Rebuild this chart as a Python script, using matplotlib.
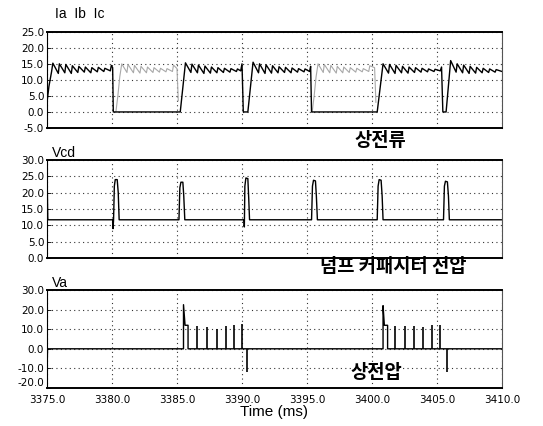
import matplotlib.pyplot as plt

# --- data ---
x_ticks = [3375.0, 3380.0, 3385.0, 3390.0, 3395.0, 3400.0, 3405.0, 3410.0]
i_ticks = [-5.0, 0.0, 5.0, 10.0, 15.0, 20.0, 25.0]
vcd_ticks = [0.0, 5.0, 10.0, 15.0, 20.0, 25.0, 30.0]
va_ticks = [-20.0, -10.0, 0.0, 10.0, 20.0, 30.0]

# phase current, dark trace (vertices)
cur_t = [3375.00, 3375.15, 3375.35, 3375.45, 3375.87, 3375.95, 3376.37, 3376.45, 3376.87, 3376.95,
         3377.37, 3377.45, 3377.87, 3377.95, 3378.37, 3378.45, 3378.87, 3378.95, 3379.37, 3379.45,
         3379.87, 3379.95, 3380.05, 3380.10,
         3385.25, 3385.65, 3386.07, 3386.15, 3386.57, 3386.65, 3387.07, 3387.15, 3387.57, 3387.65,
         3388.07, 3388.15, 3388.57, 3388.65, 3389.07, 3389.15, 3389.57, 3389.65, 3389.90, 3390.00,
         3390.10,
         3390.45, 3390.85, 3391.27, 3391.35, 3391.77, 3391.85, 3392.27, 3392.35, 3392.77, 3392.85,
         3393.27, 3393.35, 3393.77, 3393.85, 3394.27, 3394.35, 3394.77, 3394.85, 3395.20, 3395.28,
         3395.35,
         3400.40, 3400.85, 3401.27, 3401.35, 3401.77, 3401.85, 3402.27, 3402.35, 3402.77, 3402.85,
         3403.27, 3403.35, 3403.77, 3403.85, 3404.27, 3404.35, 3404.77, 3404.85, 3405.25, 3405.35,
         3405.45,
         3405.70, 3406.05, 3406.47, 3406.55, 3406.97, 3407.05, 3407.47, 3407.55, 3407.97, 3408.05,
         3408.47, 3408.55, 3408.97, 3409.05, 3409.47, 3409.55, 3410.00]
cur_v = [3.0, 8.0, 12.5, 15.2, 12.0, 15.0, 12.2, 14.8, 12.0, 14.4,
         12.3, 14.2, 12.4, 14.0, 12.2, 13.8, 12.5, 13.9, 12.6, 13.6,
         12.8, 14.5, 13.8, 0.0,
         0.0, 15.3, 12.3, 14.9, 12.2, 14.6, 12.0, 14.3, 12.1, 14.0,
         12.2, 13.8, 12.3, 13.6, 12.4, 13.5, 12.6, 13.4, 12.8, 15.0,
         0.0,
         0.0, 15.5, 12.2, 15.0, 12.0, 14.7, 12.1, 14.4, 12.2, 14.1,
         12.3, 13.9, 12.2, 13.7, 12.4, 13.5, 12.5, 13.4, 12.6, 14.2,
         0.0,
         0.0, 15.0, 12.1, 14.8, 12.0, 14.5, 12.2, 14.2, 12.1, 14.0,
         12.3, 13.8, 12.4, 13.6, 12.5, 13.4, 12.6, 13.3, 12.8, 14.0,
         0.0,
         0.0, 16.0, 12.4, 15.0, 12.2, 14.6, 12.0, 14.2, 12.1, 13.9,
         12.2, 13.6, 12.3, 13.4, 12.4, 13.2, 12.6]

# phase current, faint trace (None = gap)
cur2_t = [3380.30, 3380.45, 3380.60, 3380.75, 3381.15, 3381.23, 3381.65, 3381.73, 3382.15, 3382.23,
          3382.65, 3382.73, 3383.15, 3383.23, 3383.65, 3383.73, 3384.15, 3384.23, 3384.65, 3384.73,
          3385.00, 3385.10, None,
          3395.40, 3395.55, 3395.70, 3395.85, 3396.25, 3396.33, 3396.75, 3396.83, 3397.25, 3397.33,
          3397.75, 3397.83, 3398.25, 3398.33, 3398.75, 3398.83, 3399.25, 3399.33, 3399.75, 3399.83,
          3400.20, 3400.30]
cur2_v = [0.0, 5.0, 11.0, 15.0, 12.3, 14.8, 12.2, 14.5, 12.1, 14.2,
          12.2, 14.0, 12.3, 13.8, 12.4, 13.6, 12.5, 13.5, 12.6, 14.6,
          13.5, 3.5, None,
          0.0, 5.0, 11.0, 15.0, 12.3, 14.8, 12.2, 14.5, 12.1, 14.2,
          12.2, 14.0, 12.3, 13.8, 12.4, 13.6, 12.5, 13.5, 12.6, 14.4,
          13.8, 3.0]

# dump capacitor voltage
vcd_t = [3375.00, 3375.06, 3375.10,
         3380.05, 3380.08, 3380.12, 3380.18, 3380.25, 3380.40, 3380.48, 3380.55,
         3385.15, 3385.22, 3385.30, 3385.45, 3385.52, 3385.60,
         3390.15, 3390.18, 3390.22, 3390.30, 3390.45, 3390.52, 3390.58,
         3395.35, 3395.42, 3395.50, 3395.65, 3395.72, 3395.80,
         3400.40, 3400.47, 3400.55, 3400.70, 3400.78, 3400.85,
         3405.50, 3405.57, 3405.65, 3405.80, 3405.88, 3405.95, 3410.00]
vcd_v = [26.0, 12.0, 11.7,
         11.7, 9.0, 11.7, 22.0, 24.0, 24.0, 20.0, 11.7,
         11.7, 21.5, 23.2, 23.2, 19.0, 11.7,
         11.7, 9.5, 22.0, 24.5, 24.3, 18.0, 11.7,
         11.7, 22.0, 23.8, 23.6, 19.0, 11.7,
         11.7, 22.0, 24.0, 23.8, 19.0, 11.7,
         11.7, 22.0, 23.5, 23.3, 19.0, 11.7, 11.7]

# phase voltage: baseline with the two conduction blocks
va_t = [3375.00, 3375.00, 3375.04, 3385.50, 3385.50, 3385.62, 3385.85, 3385.85,
        3400.85, 3400.85, 3400.95, 3401.20, 3401.20, 3410.00]
va_v = [7.0, -12.0, 0.0, 0.0, 22.5, 12.0, 12.0, 0.0,
        0.0, 22.0, 12.0, 12.0, 0.0, 0.0]
# chopping pulses (time, peak)
pulse_t = [3386.50, 3387.30, 3388.10, 3388.80, 3389.40, 3390.02,
           3401.80, 3402.50, 3403.20, 3403.95, 3404.65, 3405.20,
           3390.40, 3405.75]
pulse_v = [11.5, 11.0, 10.0, 11.5, 12.0, 12.5,
           11.5, 11.5, 11.8, 11.0, 12.0, 12.0,
           -12.0, -12.0]

W, H = 543, 426
fig = plt.figure(figsize=(W / 100, H / 100), dpi=100)

tick_font = ['DejaVu Sans']
name_font = ['Liberation Sans Narrow', 'Liberation Sans', 'DejaVu Sans']
kr_font = ['Noto Sans CJK KR', 'DejaVu Sans']

def frame(top, bottom):
    return [47 / W, 1 - bottom / H, (502 - 47) / W, (bottom - top) / H]

def style(ax, yt, show_x):
    ax.set_xlim(3375, 3410)
    ax.set_ylim(yt[0], yt[-1])
    ax.set_xticks(x_ticks)
    ax.set_yticks(yt)
    ax.set_yticklabels(['%.1f' % v for v in yt], fontsize=7.5, family=tick_font)
    if show_x:
        ax.set_xticklabels(['%.1f' % v for v in x_ticks], fontsize=7.5, family=tick_font)
    else:
        ax.set_xticklabels([])
    ax.tick_params(axis='y', direction='in', length=3, width=0.6, pad=2)
    ax.tick_params(axis='x', length=0, pad=5)
    ax.grid(True, linestyle=(0, (1, 3)), color='#333333', linewidth=0.8)
    for s in ['top', 'bottom']:
        ax.spines[s].set_linewidth(1.4)
    for s in ['left', 'right']:
        ax.spines[s].set_linewidth(0.8)
    ax.spines['right'].set_color('#555555')

ax1 = fig.add_axes(frame(31.7, 128))
ax1.plot(cur2_t, cur2_v, color='#a8a8a8', lw=0.8)
ax1.plot(cur_t, cur_v, color='black', lw=1.0)
style(ax1, i_ticks, False)

ax2 = fig.add_axes(frame(160, 258))
ax2.plot(vcd_t, vcd_v, color='black', lw=1.0)
style(ax2, vcd_ticks, False)

ax3 = fig.add_axes(frame(290, 388))
ax3.plot(va_t, va_v, color='black', lw=1.0)
ax3.vlines(pulse_t, 0, pulse_v, color='black', lw=1.2)
style(ax3, va_ticks, True)
# keep the lowest y label clear of the first time label
ax3.get_yticklabels()[0].set_verticalalignment('bottom')
ax3.set_xlabel('Time (ms)', fontsize=11, family=name_font, labelpad=0)

# trace names
fig.text(55 / W, 1 - 14 / H, 'Ia  Ib  Ic', fontsize=10, family=name_font, va='center')
fig.text(52 / W, 1 - 153 / H, 'Vcd', fontsize=10, family=name_font, va='center')
fig.text(52 / W, 1 - 283 / H, 'Va', fontsize=10, family=name_font, va='center')

# Korean captions
fig.text(380 / W, 1 - 141 / H, '상전류', fontsize=13.5, family=kr_font,
         fontweight='bold', ha='center', va='center')
fig.text(393 / W, 1 - 267 / H, '덤프 커패시터 전압', fontsize=13.5, family=kr_font,
         fontweight='bold', ha='center', va='center')
fig.text(376 / W, 1 - 372 / H, '상전압', fontsize=13.5, family=kr_font,
         fontweight='bold', ha='center', va='center')

fig.savefig('out.png', dpi=100)
